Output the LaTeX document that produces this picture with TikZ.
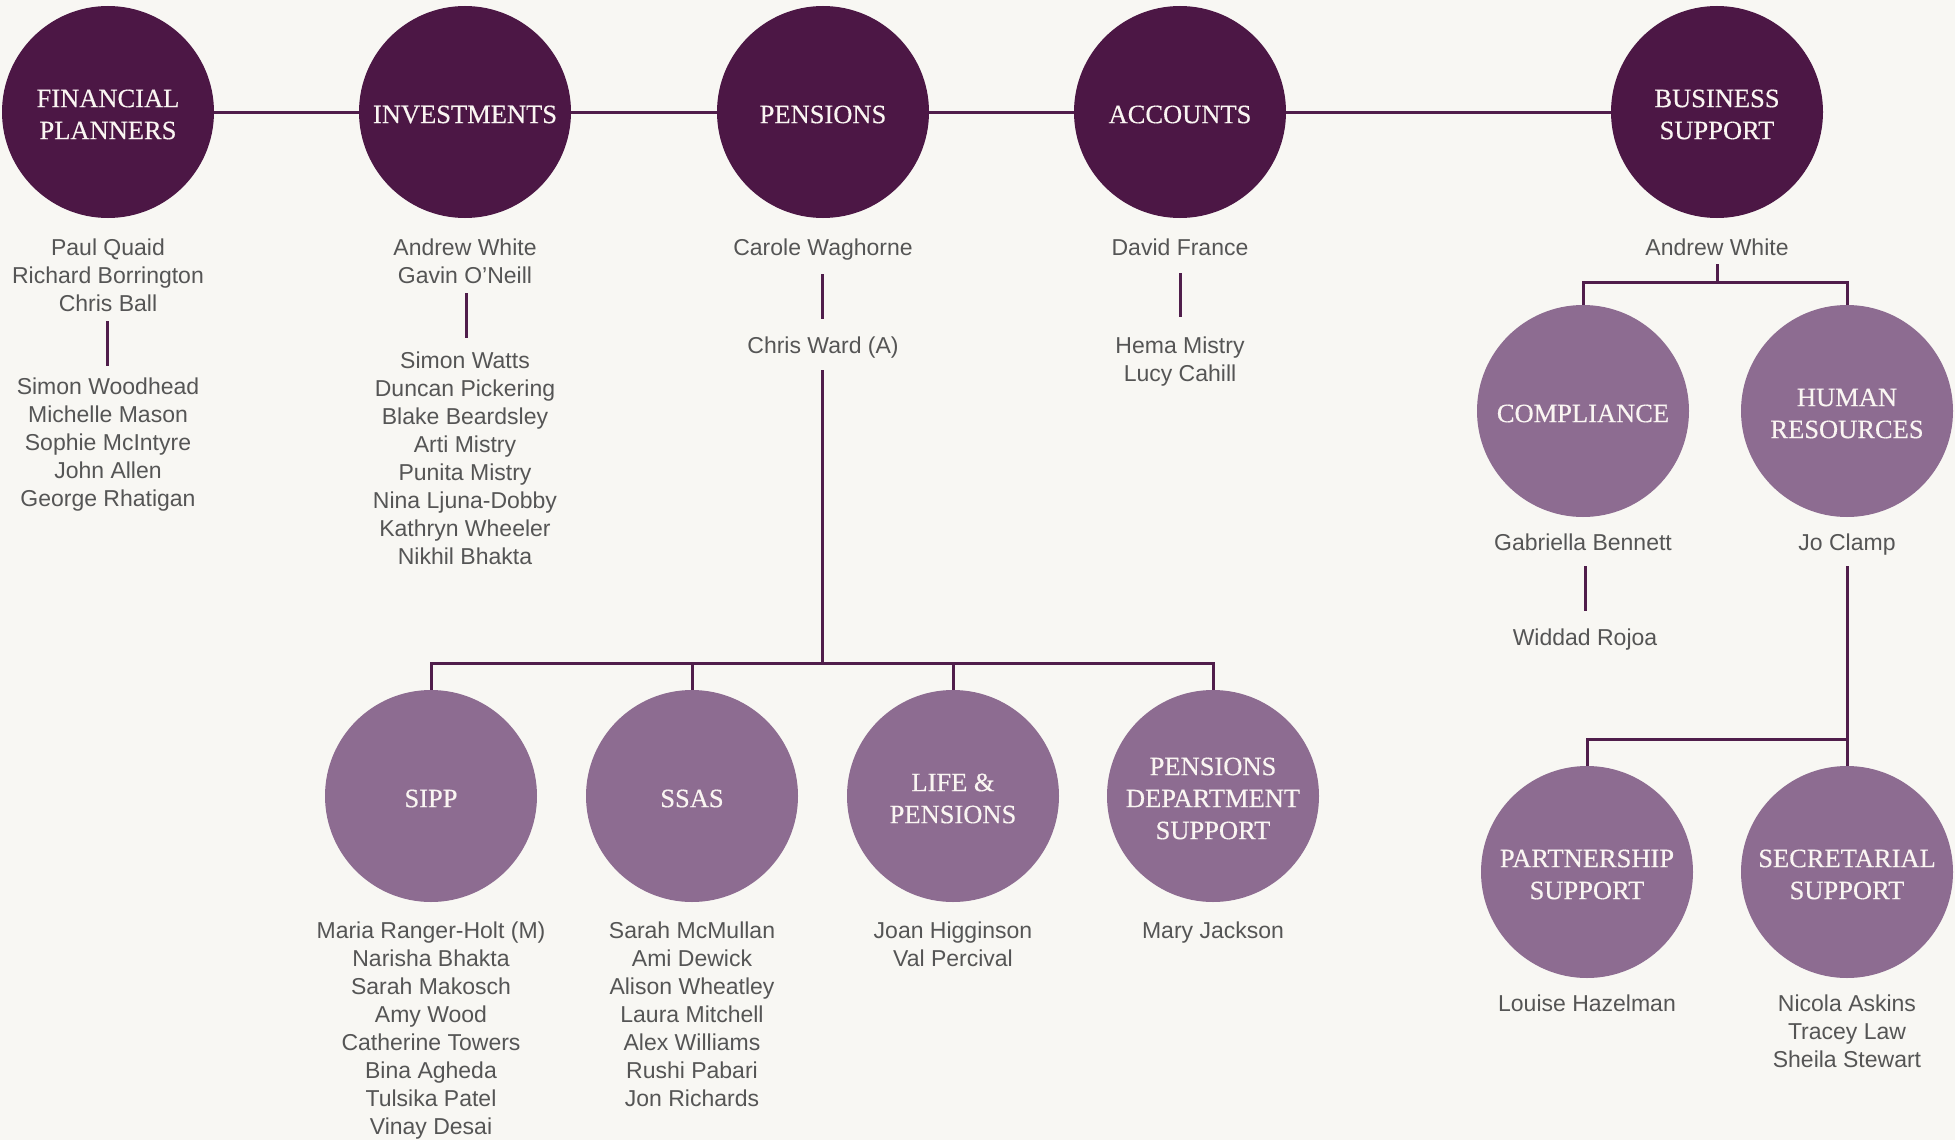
\documentclass[tikz,border=0pt]{standalone}
\usepackage{fontspec}
\setmainfont{Liberation Serif}
\newfontfamily\titlefont[FakeBold=0.4]{Liberation Serif}
\newfontfamily\namefont{Liberation Sans}
\definecolor{bgc}{RGB}{248,247,243}
\definecolor{darkc}{RGB}{76,23,69}
\definecolor{lightc}{RGB}{141,108,145}
\definecolor{linec}{RGB}{80,30,75}
\definecolor{namec}{RGB}{85,85,85}
\definecolor{titlec}{RGB}{250,245,242}
\tikzset{
  dept/.style={circle, minimum size=212pt, inner sep=0pt, fill=darkc},
  subdept/.style={dept, fill=lightc},
  titletext/.style={inner sep=0pt, align=center, text=titlec,
    font=\titlefont\fontsize{26.5}{32}\selectfont},
  people/.style={anchor=north, inner sep=0pt, align=center, text=namec,
    font=\namefont\fontsize{23}{28}\selectfont},
  conn/.style={draw=linec, line width=3pt, line join=miter},
}
\newcommand\deptnode[4]{%
  \node[#1] (#2) at #3 {};
  \node[titletext] (#2t) at ([yshift=-2.5pt]#2.center) {#4};}
\begin{document}
\begin{tikzpicture}[x=1pt,y=-1pt]
\useasboundingbox (0,0) rectangle (1955,1140);
\fill[bgc] (0,0) rectangle (1955,1140);

% top row
\deptnode{dept}{fp}{(108,112)}{FINANCIAL\\PLANNERS}
\deptnode{dept}{inv}{(465,112)}{INVESTMENTS}
\deptnode{dept}{pen}{(823,112)}{PENSIONS}
\deptnode{dept}{acc}{(1180,112)}{ACCOUNTS}
\deptnode{dept}{bs}{(1717,112)}{BUSINESS\\SUPPORT}

\draw[conn] (fp) -- (inv);
\draw[conn] (inv) -- (pen);
\draw[conn] (pen) -- (acc);
\draw[conn] (acc) -- (bs);

% financial planners
\node[people] (fplead) at (108,239) {Paul Quaid\\Richard Borrington\\Chris Ball};
\node[people] (fpstaff) at (108,378) {Simon Woodhead\\Michelle Mason\\Sophie McIntyre\\John Allen\\George Rhatigan};
\coordinate (fpA) at (107,321);
\coordinate (fpB) at (107,366);
\draw[conn] (fpA) -- (fpB);

% investments
\node[people] (invlead) at (465,239) {Andrew White\\Gavin O’Neill};
\node[people] (invstaff) at (465,352) {Simon Watts\\Duncan Pickering\\Blake Beardsley\\Arti Mistry\\Punita Mistry\\Nina Ljuna-Dobby\\Kathryn Wheeler\\Nikhil Bhakta};
\coordinate (invA) at (466,293);
\coordinate (invB) at (466,338);
\draw[conn] (invA) -- (invB);

% pensions
\node[people] (penlead) at (823,239) {Carole Waghorne};
\node[people] (pen2) at (823,337) {Chris Ward (A)};
\coordinate (penA) at (822,274);
\coordinate (penB) at (822,319);
\draw[conn] (penA) -- (penB);
\coordinate (penC) at (822,370);
\coordinate (pbus) at (822,663);
\draw[conn] (penC) -- (pbus);

% accounts
\node[people] (acclead) at (1180,239) {David France};
\node[people] (accstaff) at (1180,337) {Hema Mistry\\Lucy Cahill};
\coordinate (accA) at (1180,273);
\coordinate (accB) at (1180,317);
\draw[conn] (accA) -- (accB);

% business support
\node[people] (bslead) at (1717,239) {Andrew White};
\coordinate (bsA) at (1717,264);
\coordinate (bsbus) at (1717,282);
\deptnode{subdept}{comp}{(1583,411)}{COMPLIANCE}
\deptnode{subdept}{hr}{(1847,411)}{HUMAN\\RESOURCES}
\draw[conn] (bsA) -- (bsbus);
\draw[conn] (comp.north) |- (bsbus) -| (hr.north);

\node[people] (complead) at (1583,534) {Gabriella Bennett};
\node[people] (compstaff) at (1585,629) {Widdad Rojoa};
\coordinate (compA) at (1585,566);
\coordinate (compB) at (1585,611);
\draw[conn] (compA) -- (compB);

\node[people] (hrlead) at (1847,534) {Jo Clamp};
\deptnode{subdept}{part}{(1587,872)}{PARTNERSHIP\\SUPPORT}
\deptnode{subdept}{sec}{(1847,872)}{SECRETARIAL\\SUPPORT}
\coordinate (hrA) at (1847,566);
\coordinate (hrbus) at (1847,739);
\draw[conn] (hrA) -- (sec.north);
\draw[conn] (part.north) |- (hrbus);

\node[people] (partstaff) at (1587,995) {Louise Hazelman};
\node[people] (secstaff) at (1847,995) {Nicola Askins\\Tracey Law\\Sheila Stewart};

% pensions sub-departments
\deptnode{subdept}{sipp}{(431,796)}{SIPP}
\deptnode{subdept}{ssas}{(692,796)}{SSAS}
\deptnode{subdept}{life}{(953,796)}{LIFE \&\\PENSIONS}
\deptnode{subdept}{pds}{(1213,796)}{PENSIONS\\DEPARTMENT\\SUPPORT}
\draw[conn] (sipp.north) |- (pbus) -| (pds.north);
\draw[conn] (ssas.north) -- (ssas.north |- pbus);
\draw[conn] (life.north) -- (life.north |- pbus);

\node[people] (sippstaff) at (431,922) {Maria Ranger-Holt (M)\\Narisha Bhakta\\Sarah Makosch\\Amy Wood\\Catherine Towers\\Bina Agheda\\Tulsika Patel\\Vinay Desai};
\node[people] (ssasstaff) at (692,922) {Sarah McMullan\\Ami Dewick\\Alison Wheatley\\Laura Mitchell\\Alex Williams\\Rushi Pabari\\Jon Richards};
\node[people] (lifestaff) at (953,922) {Joan Higginson\\Val Percival};
\node[people] (pdsstaff) at (1213,922) {Mary Jackson};
\end{tikzpicture}
\end{document}
